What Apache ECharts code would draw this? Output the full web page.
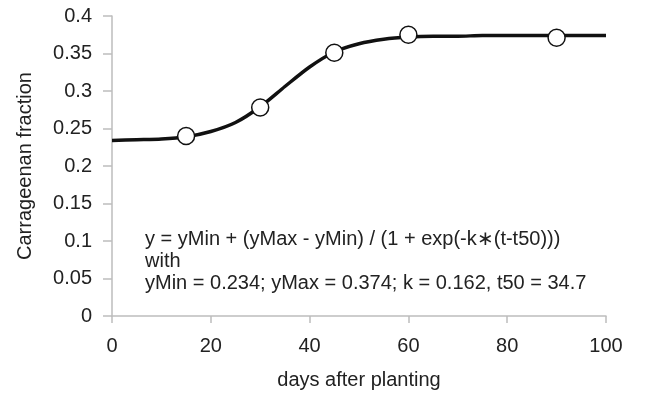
<!DOCTYPE html>
<html>
<head>
<meta charset="utf-8">
<script src="https://cdn.jsdelivr.net/npm/echarts@6/dist/echarts.min.js"></script>
<style>
    html, body { margin: 0; padding: 0; background: #fff; }
    #main { width: 650px; height: 395px; }
</style>
</head>
<body>
<div id="main"></div>
<script>
// 拟合曲线 (每5天读一个点)
const days = [0, 5, 10, 15, 20, 25, 30, 35, 40, 45, 50, 55, 60, 65, 70, 75, 80, 85, 90, 95, 100];
const fitValues = [0.234, 0.235, 0.236, 0.239, 0.246, 0.258, 0.279, 0.306, 0.332, 0.352, 0.363, 0.369, 0.372, 0.373, 0.373, 0.374, 0.374, 0.374, 0.374, 0.374, 0.374];
// 实测点
const obsDays = [15, 30, 45, 60, 90];
const obsValues = [0.240, 0.278, 0.351, 0.375, 0.371];
const formulaLines = [
    'y = yMin + (yMax - yMin) / (1 + exp(-k\u2217(t-t50)))',
    'with',
    'yMin = 0.234; yMax = 0.374; k = 0.162, t50 = 34.7'
];

const font = 'Liberation Sans, Arial, sans-serif';
const textColor = '#222';
const axisColor = '#bdbdbd';

const chart = echarts.init(document.getElementById('main'));

const option = {
    animation: false,
    grid: { left: 112, right: 44, top: 16, bottom: 76 },
    xAxis: {
        type: 'value',
        min: 0,
        max: 100,
        interval: 20,
        name: 'days after planting',
        nameLocation: 'middle',
        nameGap: 54,
        nameTextStyle: { fontSize: 20, color: textColor, fontFamily: font },
        axisLine: { lineStyle: { color: axisColor, width: 1.5 } },
        axisTick: { show: true, length: 7, lineStyle: { color: axisColor, width: 1.5 } },
        axisLabel: { fontSize: 20, color: textColor, fontFamily: font, margin: 20 },
        splitLine: { show: false }
    },
    yAxis: {
        type: 'value',
        min: 0,
        max: 0.4,
        interval: 0.05,
        name: 'Carrageenan fraction',
        nameLocation: 'middle',
        nameGap: 77,
        nameTextStyle: { fontSize: 20, color: textColor, fontFamily: font },
        axisLine: { show: true, lineStyle: { color: axisColor, width: 1.5 } },
        axisTick: { show: true, length: 9, lineStyle: { color: axisColor, width: 1.5 } },
        axisLabel: { fontSize: 20, color: textColor, fontFamily: font, margin: 20 },
        splitLine: { show: false }
    },
    graphic: [{
        type: 'text',
        left: 145,
        top: 228,
        style: {
            text: formulaLines.join('\n'),
            fontSize: 20,
            lineHeight: 22,
            fill: textColor,
            fontFamily: font
        }
    }],
    series: [
        {
            // 拟合线
            type: 'line',
            data: days.map((d, i) => [d, fitValues[i]]),
            smooth: 0.25,
            showSymbol: false,
            lineStyle: { color: '#111', width: 3.5 },
            z: 2
        },
        {
            // 观测点
            type: 'scatter',
            data: obsDays.map((d, i) => [d, obsValues[i]]),
            symbol: 'circle',
            symbolSize: 17,
            itemStyle: { color: '#fff', borderColor: '#111', borderWidth: 1.5, opacity: 1 },
            z: 3
        }
    ]
};

chart.setOption(option);
</script>
</body>
</html>
